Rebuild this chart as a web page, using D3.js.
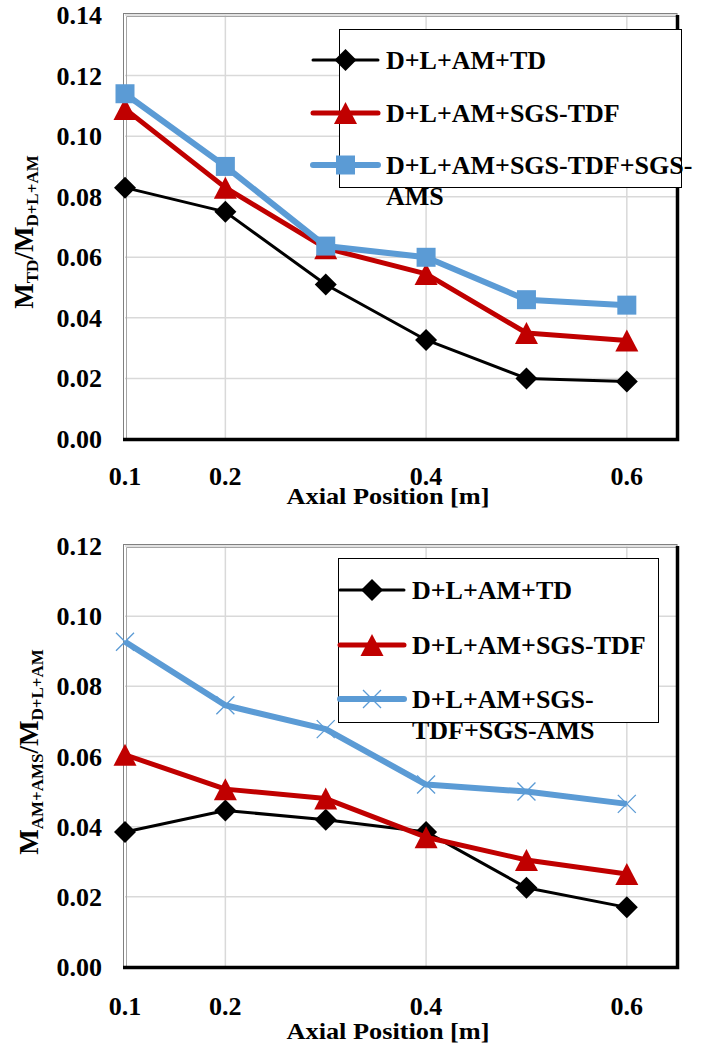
<!DOCTYPE html>
<html>
<head>
<meta charset="utf-8">
<script src="https://cdn.jsdelivr.net/npm/d3@7"></script>
<style>
  body { margin: 0; background: #fff; }
  svg text { font-family: 'Liberation Serif', 'Times New Roman', Tinos, Times, 'DejaVu Serif', serif; font-weight: 700; fill: #000; }
</style>
</head>
<body>
<svg id="chart" width="701" height="1048"></svg>
<script>
// axial positions (m)
const positions = [0.1, 0.2, 0.3, 0.4, 0.5, 0.6];
const xTickLabels = [0.1, 0.2, 0.4, 0.6];
const xGridValues = [0.2, 0.4, 0.6];

const seriesNames = ["D+L+AM+TD", "D+L+AM+SGS-TDF", "D+L+AM+SGS-TDF+SGS-AMS"];

// top panel: M_TD / M_D+L+AM
const topTD = [0.083, 0.075, 0.051, 0.0327, 0.020, 0.019];
const topTDF = [0.109, 0.083, 0.063, 0.0545, 0.035, 0.0325];
const topTDFAMS = [0.114, 0.090, 0.0637, 0.060, 0.046, 0.0442];
const topYTicks = [0, 0.02, 0.04, 0.06, 0.08, 0.10, 0.12, 0.14];

// bottom panel: M_AM+AMS / M_D+L+AM
const botTD = [0.0385, 0.0446, 0.042, 0.0385, 0.0226, 0.017];
const botTDF = [0.0605, 0.0507, 0.048, 0.037, 0.0305, 0.0265];
const botTDFAMS = [0.0927, 0.0746, 0.0678, 0.052, 0.050, 0.0465];
const botYTicks = [0, 0.02, 0.04, 0.06, 0.08, 0.10, 0.12];

const svg = d3.select("#chart")
  .attr("font-family", "'Liberation Serif', 'Times New Roman', serif")
  .attr("font-weight", "bold");

const styles = [
  { color: "#000000", width: 3, marker: "diamond" },
  { color: "#C00000", width: 5, marker: "triangle" },
  { color: "#5B9BD5", width: 6, marker: "square" }
];

function markerPath(type) {
  if (type === "diamond") return "M0,-11L11,0L0,11L-11,0Z";
  if (type === "triangle") return "M0,-11L11.5,11L-11.5,11Z";
  if (type === "square") return "M-9.5,-9.5H9.5V9.5H-9.5Z";
  if (type === "cross") return "M-9,-9L9,9M-9,9L9,-9";
}

function drawMarker(g, type, color, x, y) {
  const p = g.append("path")
    .attr("d", markerPath(type))
    .attr("transform", `translate(${x},${y})`);
  if (type === "cross") {
    p.attr("fill", "none").attr("stroke", color).attr("stroke-width", 1.3);
  } else {
    p.attr("fill", color);
  }
}

function drawPanel(cfg) {
  const x = d3.scaleLinear().domain([0.1, 0.65]).range([cfg.left, cfg.right]);
  const y = d3.scaleLinear().domain([0, cfg.yMax]).range([cfg.bottom, cfg.top]);
  const g = svg.append("g");

  // gridlines
  g.selectAll("line.hgrid")
    .data(cfg.yTicks.filter(d => d > 0))
    .enter().append("line")
    .attr("x1", cfg.left).attr("x2", cfg.right)
    .attr("y1", d => y(d)).attr("y2", d => y(d))
    .attr("stroke", "#d9d9d9").attr("stroke-width", 1.5);
  g.selectAll("line.vgrid")
    .data(xGridValues)
    .enter().append("line")
    .attr("x1", d => x(d)).attr("x2", d => x(d))
    .attr("y1", cfg.top).attr("y2", cfg.bottom)
    .attr("stroke", "#d9d9d9").attr("stroke-width", 1.5);

  // frame: double grey on left/top, thick black on bottom/right
  g.append("rect")
    .attr("x", cfg.left - 1.5).attr("y", cfg.top - 1.5)
    .attr("width", cfg.right - cfg.left + 1.5).attr("height", cfg.bottom - cfg.top + 1.5)
    .attr("fill", "none").attr("stroke", "#808080").attr("stroke-width", 1);
  g.append("path")
    .attr("d", `M${cfg.left + 1.5},${cfg.bottom}V${cfg.top + 1.5}H${cfg.right}`)
    .attr("fill", "none").attr("stroke", "#a6a6a6").attr("stroke-width", 1);
  g.append("path")
    .attr("d", `M${cfg.left - 2},${cfg.bottom + 0.5}H${cfg.right + 0.5}V${cfg.top}`)
    .attr("fill", "none").attr("stroke", "#000").attr("stroke-width", 3.5);

  // tick labels
  g.selectAll("text.ytick")
    .data(cfg.yTicks)
    .enter().append("text")
    .attr("x", 102).attr("y", d => y(d) + 9)
    .attr("text-anchor", "end")
    .style("font-size", "26px")
    .text(d => d.toFixed(2));
  g.selectAll("text.xtick")
    .data(xTickLabels)
    .enter().append("text")
    .attr("x", d => x(d)).attr("y", cfg.bottom + cfg.xTickDy)
    .attr("text-anchor", "middle")
    .style("font-size", "26px")
    .text(d => d.toFixed(1));

  // axis titles
  g.append("text")
    .attr("x", (cfg.left + cfg.right) / 2 - 13).attr("y", cfg.bottom + cfg.xTitleDy)
    .attr("text-anchor", "middle")
    .attr("textLength", 203).attr("lengthAdjust", "spacingAndGlyphs")
    .style("font-size", "24px")
    .text("Axial Position [m]");

  const yt = g.append("text")
    .attr("transform", `translate(${cfg.yTitleX},${cfg.yTitleY}) rotate(-90)`)
    .attr("text-anchor", "middle")
    .style("font-size", "27px");
  yt.append("tspan").text("M");
  yt.append("tspan").attr("dy", 5).style("font-size", "17px").text(cfg.num);
  yt.append("tspan").attr("dy", -5).text("/M");
  yt.append("tspan").attr("dy", 5).style("font-size", "17px").text("D+L+AM");

  // series
  const line = d3.line().x((d, i) => x(positions[i])).y(d => y(d));
  cfg.series.forEach((vals, k) => {
    const st = styles[k];
    g.append("path")
      .datum(vals)
      .attr("d", line)
      .attr("fill", "none")
      .attr("stroke", st.color)
      .attr("stroke-width", st.width)
      .attr("stroke-linejoin", "round");
    const mk = k === 2 ? cfg.lastMarker : st.marker;
    vals.forEach((v, i) => drawMarker(g, mk, st.color, x(positions[i]), y(v)));
  });

  // legend
  const L = cfg.legend;
  g.append("rect")
    .attr("x", L.x0 + 0.5).attr("y", L.y0 + 0.5)
    .attr("width", L.x1 - L.x0).attr("height", L.y1 - L.y0)
    .attr("fill", "#fff").attr("stroke", "#000").attr("stroke-width", 1);
  seriesNames.forEach((name, k) => {
    const st = styles[k];
    const ly = L.rows[k];
    g.append("line")
      .attr("x1", L.lx0).attr("x2", L.lx1)
      .attr("y1", ly).attr("y2", ly)
      .attr("stroke", st.color).attr("stroke-width", st.width)
      .attr("stroke-linecap", "round");
    const mk = k === 2 ? cfg.lastMarker : st.marker;
    drawMarker(g, mk, st.color, (L.lx0 + L.lx1) / 2, ly);
    const lines = L.wrap[k];
    lines.forEach((t, j) => {
      g.append("text")
        .attr("x", L.tx).attr("y", ly + 9 + j * 31)
        .style("font-size", "26px")
        .text(t);
    });
  });
}

drawPanel({
  left: 125, right: 677, top: 15, bottom: 439,
  yMax: 0.14, yTicks: topYTicks,
  xTickDy: 46, xTitleDy: 65,
  yTitleX: 33, yTitleY: 232, num: "TD",
  series: [topTD, topTDF, topTDFAMS],
  lastMarker: "square",
  legend: {
    x0: 339, y0: 29, x1: 681, y1: 187,
    lx0: 313, lx1: 378, tx: 386,
    rows: [60, 113, 165],
    wrap: [["D+L+AM+TD"], ["D+L+AM+SGS-TDF"], ["D+L+AM+SGS-TDF+SGS-", "AMS"]]
  }
});

drawPanel({
  left: 125, right: 677, top: 546, bottom: 967,
  yMax: 0.12, yTicks: botYTicks,
  xTickDy: 48, xTitleDy: 72,
  yTitleX: 38, yTitleY: 752, num: "AM+AMS",
  series: [botTD, botTDF, botTDFAMS],
  lastMarker: "cross",
  legend: {
    x0: 338, y0: 558, x1: 658, y1: 722,
    lx0: 340, lx1: 404, tx: 412,
    rows: [590, 645, 699],
    wrap: [["D+L+AM+TD"], ["D+L+AM+SGS-TDF"], ["D+L+AM+SGS-", "TDF+SGS-AMS"]]
  }
});
</script>
</body>
</html>
